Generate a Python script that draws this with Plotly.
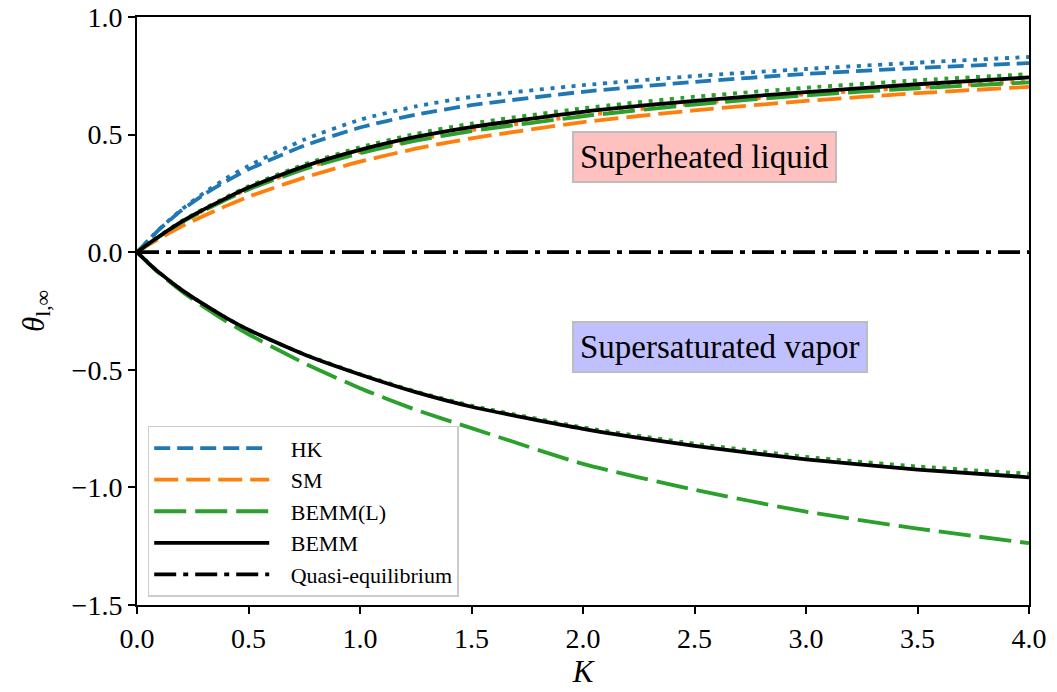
import plotly.graph_objects as go

# Dimensionless parameter K
K = [0, 0.05, 0.1, 0.2, 0.3, 0.4, 0.5, 0.75, 1.0, 1.25, 1.5, 2.0, 2.5, 3.0, 3.5, 4.0]

# Superheated-liquid branch
hk_dash = [0, 0.05, 0.097, 0.178, 0.245, 0.302, 0.352, 0.453, 0.53, 0.585, 0.625, 0.682, 0.724, 0.758, 0.783, 0.804]
hk_dot = [0, 0.05, 0.098, 0.182, 0.252, 0.314, 0.367, 0.479, 0.563, 0.62, 0.66, 0.71, 0.749, 0.779, 0.806, 0.83]
sm_dash = [0, 0.03, 0.058, 0.11, 0.155, 0.197, 0.236, 0.317, 0.385, 0.44, 0.484, 0.553, 0.603, 0.643, 0.676, 0.703]
sm_dot = [0, 0.034, 0.066, 0.127, 0.178, 0.225, 0.269, 0.356, 0.425, 0.478, 0.519, 0.581, 0.632, 0.671, 0.701, 0.727]
bemml_dash_up = [0, 0.034, 0.066, 0.127, 0.177, 0.224, 0.267, 0.353, 0.421, 0.474, 0.515, 0.578, 0.628, 0.667, 0.697, 0.722]
bemml_dot_up = [0, 0.035, 0.069, 0.132, 0.185, 0.234, 0.28, 0.373, 0.446, 0.503, 0.547, 0.612, 0.661, 0.699, 0.731, 0.757]
bemm_up = [0, 0.035, 0.068, 0.13, 0.182, 0.23, 0.275, 0.365, 0.435, 0.49, 0.532, 0.597, 0.643, 0.681, 0.714, 0.743]

# Supersaturated-vapor branch
bemml_dash_lo = [0, -0.046, -0.09, -0.166, -0.233, -0.294, -0.349, -0.472, -0.578, -0.67, -0.748, -0.9, -1.01, -1.103, -1.175, -1.237]
bemml_dot_lo = [0, -0.045, -0.087, -0.16, -0.222, -0.279, -0.33, -0.434, -0.518, -0.592, -0.652, -0.745, -0.814, -0.87, -0.911, -0.942]
bemm_lo = [0, -0.045, -0.087, -0.16, -0.222, -0.279, -0.33, -0.435, -0.52, -0.595, -0.657, -0.751, -0.823, -0.881, -0.924, -0.957]

# Quasi-equilibrium reference
quasi_K = [0, 4.0]
quasi = [0, 0]

x_ticks = [0, 0.5, 1.0, 1.5, 2.0, 2.5, 3.0, 3.5, 4.0]
x_ticktext = ["0.0", "0.5", "1.0", "1.5", "2.0", "2.5", "3.0", "3.5", "4.0"]
y_ticks = [1.0, 0.5, 0.0, -0.5, -1.0, -1.5]
y_ticktext = ["1.0", "0.5", "0.0", "\u22120.5", "\u22121.0", "\u22121.5"]

BLUE, ORANGE, GREEN = "#1f77b4", "#ff7f0e", "#2ca02c"
LW = 3.8
DOT = "4px,6.6px"
FONT = "Liberation Serif, Times New Roman, serif"
PAD = "&nbsp;&nbsp;&nbsp;"

fig = go.Figure()


def add(y, color, dash, name=None, group=None):
    fig.add_trace(go.Scatter(
        x=K if len(y) == len(K) else quasi_K, y=y, mode="lines",
        line=dict(color=color, width=LW, dash=dash, shape="spline", smoothing=0.6),
        name=(PAD + name) if name else None, showlegend=name is not None,
        legendgroup=group or name, hoverinfo="skip",
    ))


add(hk_dash, BLUE, "16px,7px", "HK", "g1")
add(hk_dot, BLUE, DOT, group="g1")
add(sm_dash, ORANGE, "24px,8px", "SM", "g2")
add(sm_dot, ORANGE, DOT, group="g2")
add(bemml_dash_up, GREEN, "32px,9px", "BEMM(L)", "g3")
add(bemml_dot_up, GREEN, DOT, group="g3")
add(bemml_dash_lo, GREEN, "32px,9px", group="g3")
add(bemml_dot_lo, GREEN, DOT, group="g3")
add(bemm_up, "black", "solid", "BEMM", "g4")
add(bemm_lo, "black", "solid", group="g4")
add(quasi, "black", "22px,7px,5px,7px", "Quasi-equilibrium", "g5")

# Region labels
fig.add_annotation(x=1.95, y=0.404, xref="x", yref="y", xanchor="left", yanchor="middle",
                   text="Superheated liquid", showarrow=False,
                   font=dict(family=FONT, size=33, color="black"),
                   bgcolor="#ffc0c0", bordercolor="#bdbdbd", borderwidth=2, borderpad=6)
fig.add_annotation(x=1.95, y=-0.404, xref="x", yref="y", xanchor="left", yanchor="middle",
                   text="Supersaturated vapor", showarrow=False,
                   font=dict(family=FONT, size=33, color="black"),
                   bgcolor="#c0c0ff", bordercolor="#bdbdbd", borderwidth=2, borderpad=6)

axis_common = dict(
    showgrid=False, zeroline=False, showline=True, linecolor="black", linewidth=2,
    mirror=True, ticks="outside", ticklen=7, tickwidth=2, tickcolor="black",
    tickfont=dict(family=FONT, size=28, color="black"),
)

fig.update_xaxes(range=[0, 4.0], tickvals=x_ticks, ticktext=x_ticktext,
                 title=dict(text="<i>K</i>", font=dict(family=FONT, size=31, color="black"), standoff=8),
                 **axis_common)
fig.update_yaxes(range=[-1.5, 1.0], tickvals=y_ticks, ticktext=y_ticktext,
                 title=dict(text="<i>θ</i><sub>l,∞</sub>", font=dict(family=FONT, size=31, color="black"), standoff=18),
                 **axis_common)

fig.update_layout(
    width=1057, height=692,
    margin=dict(l=137, r=28, t=17, b=87, autoexpand=False),
    plot_bgcolor="white", paper_bgcolor="white",
    legend=dict(
        x=0.012, y=0.014, xanchor="left", yanchor="bottom",
        font=dict(family=FONT, size=22, color="black"),
        bgcolor="rgba(255,255,255,0.85)", bordercolor="#cccccc", borderwidth=1.5,
        itemwidth=115, traceorder="normal",
    ),
)

fig.write_html("out.html")
